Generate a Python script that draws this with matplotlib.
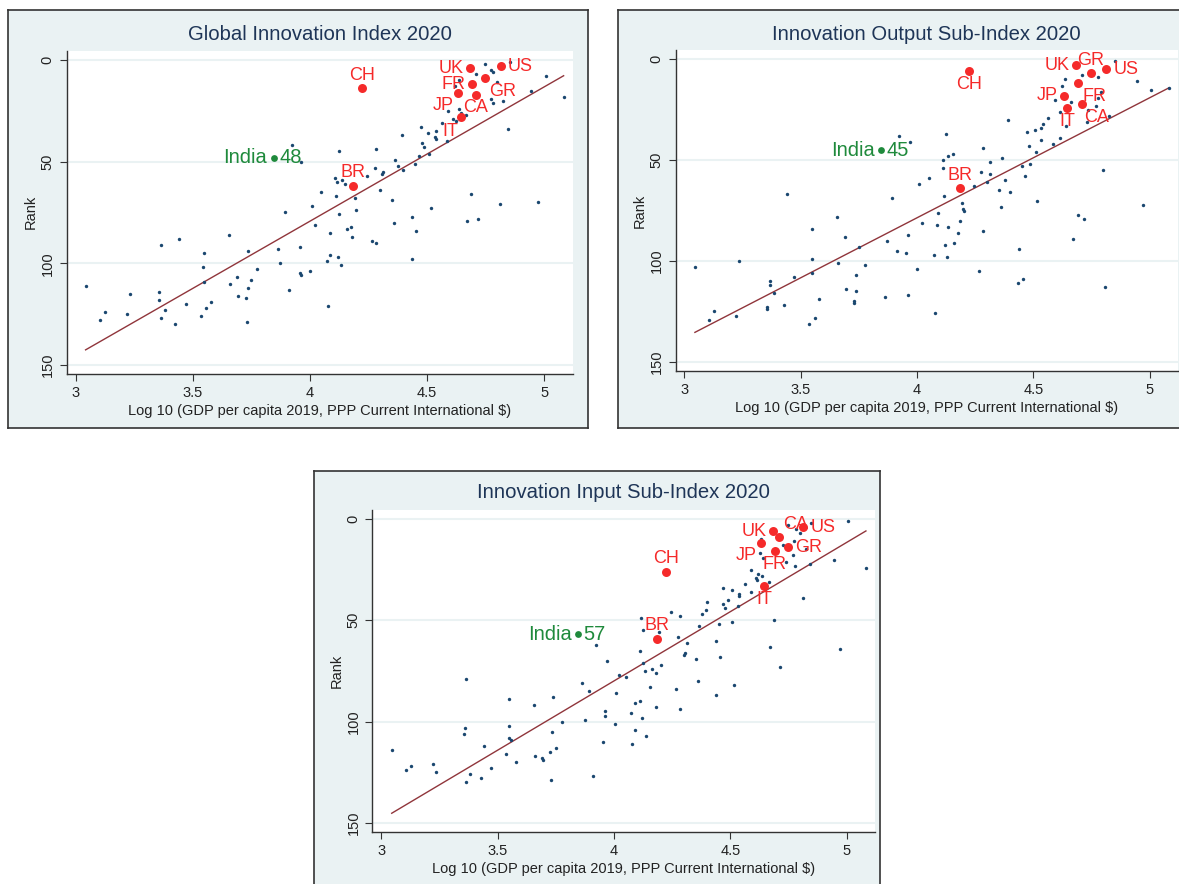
import matplotlib
matplotlib.use('Agg')
import matplotlib.pyplot as plt
import numpy as np

plt.rcParams['font.family'] = ['Liberation Sans', 'DejaVu Sans']

# ---- Global Innovation Index 2020: log10 GDP per capita vs rank
gii_x = [4.748, 4.852, 4.772, 4.78, 4.708, 5.005, 4.636, 4.796, 4.62, 4.944, 5.082, 4.772, 4.78, 4.825,
         4.588, 4.636, 4.644, 4.665, 4.612, 4.623, 4.564, 4.472, 4.844, 4.504, 4.536, 4.532, 4.537,
         4.392, 4.585, 4.478, 4.488, 3.922, 4.283, 4.123, 4.464, 4.508, 4.363, 4.447, 3.962, 4.376,
         4.399, 4.277, 4.312, 4.309, 4.245, 4.107, 4.115, 4.135, 4.151, 4.19, 4.299, 4.049, 4.111,
         4.689, 4.191, 4.349, 4.812, 4.973, 4.007, 4.197, 4.516, 3.892, 4.126, 4.437, 4.716, 4.668,
         4.36, 4.02, 4.174, 4.16, 4.453, 4.087, 3.653, 4.18, 4.265, 4.283, 3.441, 3.366, 3.863, 3.959,
         3.736, 3.55, 4.435, 4.087, 4.119, 4.071, 3.871, 4.134, 3.545, 3.775, 3.956, 3.96, 4.001,
         3.688, 3.749, 3.547, 3.661, 3.043, 3.735, 3.911, 3.356, 3.234, 3.693, 3.728, 3.355, 3.577,
         3.47, 4.079, 3.558, 3.383, 3.125, 3.221, 3.534, 3.366, 3.106, 3.73, 3.425]
gii_rank = [2, 1, 5, 6, 7, 8, 10, 11, 13, 15, 18, 19, 21, 20,
            25, 24, 26, 27, 29, 30, 31, 33, 34, 36, 35, 38, 39,
            37, 40, 41, 43, 42, 44, 45, 47, 46, 49, 51, 50, 52,
            54, 53, 55, 56, 57, 58, 60, 59, 61, 63, 64, 65, 67,
            66, 68, 69, 71, 70, 72, 74, 73, 75, 76, 77, 78, 79,
            80, 81, 82, 83, 84, 85, 86, 87, 89, 90, 88, 91, 93, 92,
            94, 95, 98, 96, 97, 99, 100, 101, 102, 103, 105, 106, 104,
            107, 108, 109, 110, 111, 112, 113, 114, 115, 116, 117, 118, 119,
            120, 121, 122, 123, 124, 125, 126, 127, 128, 129, 130]

# ---- Innovation Output Sub-Index 2020
out_x = [4.85, 4.709, 4.777, 4.635, 4.624, 4.947, 5.008, 5.084, 4.592, 4.664, 4.777, 4.793, 4.769,
         4.613, 4.737, 4.826, 4.564, 4.54, 4.393, 4.729, 4.64, 4.532, 4.508, 4.471, 4.123, 3.923,
         4.535, 4.613, 3.97, 4.584, 4.48, 4.285, 4.511, 4.153, 4.135, 4.366, 4.112, 4.312, 4.487,
         4.451, 4.11, 4.8, 4.277, 4.314, 4.466, 4.051, 4.377, 4.301, 4.007, 4.245, 4.353, 4.401,
         3.442, 4.114, 3.893, 4.516, 4.193, 4.971, 4.196, 4.201, 4.091, 4.362, 4.69, 3.654, 4.716,
         4.022, 4.183, 4.088, 4.135, 3.549, 4.285, 4.177, 3.962, 3.691, 4.671, 3.873, 4.161, 4.122,
         3.751, 4.438, 3.912, 3.954, 4.072, 4.127, 3.547, 3.236, 3.66, 3.776, 3.045, 4.002, 4.267,
         3.55, 3.739, 3.471, 4.454, 3.366, 3.366, 4.435, 4.81, 3.696, 3.384, 3.736, 3.962, 3.864,
         3.578, 3.73, 3.73, 3.428, 3.357, 3.357, 3.126, 4.078, 3.22, 3.56, 3.107, 3.536]
out_rank = [1, 8, 9, 10, 13, 11, 15, 14, 20, 21, 19, 16, 23,
            26, 25, 28, 29, 32, 30, 31, 33, 34, 35, 36, 37, 38,
            40, 39, 41, 42, 43, 44, 46, 47, 48, 49, 50, 51, 52,
            53, 54, 55, 56, 57, 58, 59, 60, 61, 62, 63, 65, 66,
            67, 68, 69, 70, 71, 72, 74, 75, 76, 73, 77, 78, 79,
            81, 80, 82, 83, 84, 85, 86, 87, 88, 89, 90, 91, 92,
            93, 94, 95, 96, 97, 98, 99, 100, 101, 102, 103, 104, 105,
            106, 107, 108, 109, 110, 112, 111, 113, 114, 116, 115, 117, 118,
            119, 120, 121, 122, 123, 124, 125, 126, 127, 128, 129, 131]

# ---- Innovation Input Sub-Index 2020
inp_x = [5.005, 4.748, 4.849, 4.798, 4.782, 4.634, 4.774, 4.727, 4.824, 4.628, 4.769, 4.642, 4.946,
         4.74, 4.844, 4.779, 5.083, 4.59, 4.621, 4.636, 4.61, 4.615, 4.665, 4.564, 4.47, 4.509,
         4.587, 4.537, 4.537, 4.813, 4.491, 4.4, 4.467, 4.478, 4.533, 4.396, 4.245, 4.379, 4.285,
         4.115, 4.688, 4.509, 4.45, 4.364, 4.125, 4.192, 4.277, 4.439, 4.315, 3.924, 4.671, 4.972,
         4.11, 4.307, 4.301, 4.455, 4.354, 3.969, 4.125, 4.201, 4.715, 4.132, 4.164, 4.179, 4.023,
         4.05, 3.366, 4.363, 3.863, 4.516, 4.154, 4.268, 3.894, 4.009, 4.438, 3.738, 3.551, 4.112,
         4.09, 3.656, 4.182, 4.285, 3.961, 3.961, 4.075, 4.121, 3.874, 3.776, 4.003, 3.548, 3.358,
         4.089, 3.735, 3.357, 4.136, 3.548, 3.559, 3.955, 4.079, 3.442, 3.751, 3.045, 3.727, 3.536,
         3.66, 3.692, 3.696, 3.579, 3.221, 3.126, 3.47, 3.107, 3.235, 3.383, 3.911, 3.427, 3.729, 3.366]
inp_rank = [1, 3, 2, 7, 5, 10, 11, 13, 15, 17, 18, 19, 20,
            21, 22, 23, 24, 25, 27, 28, 29, 30, 31, 32, 34, 35,
            36, 37, 38, 39, 40, 41, 42, 44, 43, 45, 46, 47, 48,
            49, 50, 51, 52, 53, 55, 56, 58, 60, 61, 62, 63, 64,
            65, 66, 67, 68, 69, 70, 71, 72, 73, 75, 74, 76, 77,
            78, 79, 80, 81, 82, 83, 84, 85, 86, 87, 88, 89, 90,
            91, 92, 93, 94, 95, 97, 96, 98, 99, 100, 101, 102, 103,
            104, 105, 106, 107, 108, 109, 110, 111, 112, 113, 114, 115, 116,
            117, 118, 119, 120, 121, 122, 123, 124, 125, 126, 127, 128, 129, 130]

# ---- highlighted countries (same GDP in every panel)
hl_codes = ['US', 'UK', 'GR', 'FR', 'JP', 'CA', 'IT', 'CH', 'BR']
hl_x = [4.814, 4.684, 4.748, 4.692, 4.633, 4.708, 4.645, 4.224, 4.184]
hl_gii = [3, 4, 9, 12, 16, 17, 28, 14, 62]
hl_out = [5, 3, 7, 12, 18, 22, 24, 6, 64]
hl_inp = [4, 6, 14, 16, 12, 9, 33, 26, 59]

india_x = 3.845
india_ranks = [48, 45, 57]

titles = ['Global Innovation Index 2020', 'Innovation Output Sub-Index 2020',
          'Innovation Input Sub-Index 2020']

# label placement (clock position as in Stata mlabpos)
pos_gii = {'US': 3, 'UK': 9, 'GR': 4, 'FR': 9, 'JP': 8, 'CA': 6, 'IT': 7, 'CH': 12, 'BR': 12}
pos_out = {'US': 3, 'UK': 9, 'GR': 12, 'FR': 4, 'JP': 9, 'CA': 5, 'IT': 6, 'CH': 6, 'BR': 12}
pos_inp = {'US': 3, 'UK': 9, 'GR': 3, 'FR': 6, 'JP': 8, 'CA': 1, 'IT': 6, 'CH': 12, 'BR': 12}

BG = '#eaf2f3'
NAVY = '#1a476f'
RED = '#f52a2a'
MAROON = '#90353b'
GREEN = '#1f8a3c'
W, H = 1179, 884

clock = {3: (5, 0, 'left', 'center'), 9: (-5, 0, 'right', 'center'),
         12: (0, 3.5, 'center', 'bottom'), 6: (0, -3.5, 'center', 'top'),
         4: (3, -3, 'left', 'top'), 5: (2, -4, 'left', 'top'),
         7: (-2, -4, 'right', 'top'), 8: (-3, -3, 'right', 'top'),
         1: (3, 3, 'left', 'bottom')}

fig = plt.figure(figsize=(W / 100, H / 100), dpi=100)


def px_box(l, t, r, b):
    return [l / W, 1 - b / H, (r - l) / W, (b - t) / H]


def panel(outer, inner, title_y, title, xs, ranks, hl_rank, pos, india_rank):
    bg = fig.add_axes(px_box(*outer), zorder=-5)
    bg.set_xticks([])
    bg.set_yticks([])
    bg.set_facecolor(BG)
    for s in bg.spines.values():
        s.set_color('#333333')
        s.set_linewidth(1.2)
    tx = (inner[0] + inner[2]) / 2
    fig.text(tx / W, 1 - title_y / H, title,
             ha='center', va='center', fontsize=14.6, color='#1e3557')
    ax = fig.add_axes(px_box(*inner), zorder=1)
    ax.set_facecolor('white')
    allx = np.array(list(xs) + hl_x + [india_x])
    ally = np.array(list(ranks) + hl_rank + [india_rank])
    k, c = np.polyfit(allx, ally, 1)
    lx = np.array([allx.min(), allx.max()])
    ax.scatter(xs, ranks, s=6, color=NAVY, zorder=3, linewidths=0)
    ax.plot(lx, k * lx + c, color=MAROON, lw=1.0, zorder=2)
    ax.scatter(hl_x, hl_rank, s=42, color=RED, zorder=4, linewidths=0)
    for code, x, y in zip(hl_codes, hl_x, hl_rank):
        dx, dy, ha, va = clock[pos[code]]
        ax.annotate(code, (x, y), xytext=(dx, dy), textcoords='offset points',
                    ha=ha, va=va, color=RED, fontsize=13, zorder=5)
    ax.scatter([india_x], [india_rank], s=24, color=GREEN, zorder=4, linewidths=0)
    ax.annotate('India', (india_x, india_rank), xytext=(-4.5, 0), textcoords='offset points',
                ha='right', va='center', color=GREEN, fontsize=14.5)
    ax.annotate(str(india_rank), (india_x, india_rank), xytext=(4, 0), textcoords='offset points',
                ha='left', va='center', color=GREEN, fontsize=14.5)
    ax.set_xlim(2.962, 5.122)
    ax.set_ylim(154.5, -4.6)
    ax.set_xticks([3, 3.5, 4, 4.5, 5])
    ax.set_xticklabels(['3', '3.5', '4', '4.5', '5'])
    ax.set_yticks([0, 50, 100, 150])
    ax.set_yticklabels(['0', '50', '100', '150'], rotation=90, va='center')
    ax.grid(axis='y', color=BG, lw=1.5)
    ax.set_axisbelow(True)
    for s in ['top', 'right']:
        ax.spines[s].set_visible(False)
    for s in ['left', 'bottom']:
        ax.spines[s].set_color('#333333')
        ax.spines[s].set_linewidth(1.0)
    ax.tick_params(labelsize=10.5, length=5, color='#333333', labelcolor='#222222')
    ax.set_xlabel('Log 10 (GDP per capita 2019, PPP Current International $)', fontsize=10.5,
                  color='#222222', labelpad=3)
    ax.set_ylabel('Rank', fontsize=10.5, color='#222222', labelpad=2)
    return ax


panel((8, 10, 588, 428), (66.6, 50.7, 573, 374), 35, titles[0],
      gii_x, gii_rank, hl_gii, pos_gii, india_ranks[0])
panel((618, 10, 1186, 428), (675.6, 50, 1178, 371), 34, titles[1],
      out_x, out_rank, hl_out, pos_out, india_ranks[1])
panel((314, 471, 880, 892), (372.4, 509.7, 875, 832), 493, titles[2],
      inp_x, inp_rank, hl_inp, pos_inp, india_ranks[2])

fig.savefig('out.png', dpi=100, facecolor='white')
